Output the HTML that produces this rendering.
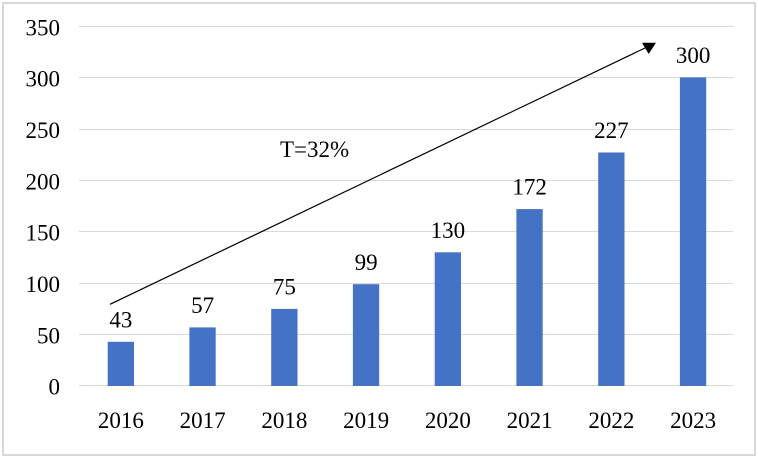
<!DOCTYPE html>
<html><head><meta charset="utf-8"><style>
html,body{margin:0;padding:0;background:#fff;}
svg{display:block;}
text{font-family:"Liberation Serif","Times New Roman",serif;font-size:23px;fill:#000;}
</style></head><body>
<svg width="758" height="458" viewBox="0 0 758 458" xmlns="http://www.w3.org/2000/svg">
<rect x="0" y="0" width="758" height="458" fill="#fff"/>
<rect x="3" y="3" width="752" height="452" fill="none" stroke="#d9d9d9" stroke-width="2"/>
<g stroke="#d9d9d9" stroke-width="1">
<line x1="79" y1="26.5" x2="733" y2="26.5"/>
<line x1="79" y1="77.5" x2="733" y2="77.5"/>
<line x1="79" y1="129.5" x2="733" y2="129.5"/>
<line x1="79" y1="180.5" x2="733" y2="180.5"/>
<line x1="79" y1="231.5" x2="733" y2="231.5"/>
<line x1="79" y1="283.5" x2="733" y2="283.5"/>
<line x1="79" y1="334.5" x2="733" y2="334.5"/>
<line x1="79" y1="385.5" x2="733" y2="385.5"/>
</g>
<g text-anchor="end">
<text x="60" y="35.5">350</text>
<text x="60" y="86.5">300</text>
<text x="60" y="138">250</text>
<text x="60" y="189.5">200</text>
<text x="60" y="240.5">150</text>
<text x="60" y="292">100</text>
<text x="60" y="343.5">50</text>
<text x="60" y="394.5">0</text>
</g>
<g fill="#4472c4">
<rect x="107.7" y="341.8" width="26.3" height="44.2"/>
<rect x="189.4" y="327.4" width="26.3" height="58.6"/>
<rect x="271.2" y="308.9" width="26.3" height="77.1"/>
<rect x="352.9" y="284.2" width="26.3" height="101.8"/>
<rect x="434.7" y="252.3" width="26.3" height="133.7"/>
<rect x="516.4" y="209.1" width="26.3" height="176.9"/>
<rect x="598.2" y="152.5" width="26.3" height="233.5"/>
<rect x="679.9" y="77.4" width="26.3" height="308.6"/>
</g>
<g text-anchor="middle">
<text x="120.9" y="327.5">43</text>
<text x="202.6" y="313">57</text>
<text x="284.4" y="294.5">75</text>
<text x="366.1" y="270">99</text>
<text x="447.9" y="238">130</text>
<text x="529.6" y="194.5">172</text>
<text x="611.4" y="138">227</text>
<text x="693.1" y="63">300</text>
</g>
<g text-anchor="middle">
<text x="120.9" y="428">2016</text>
<text x="202.6" y="428">2017</text>
<text x="284.4" y="428">2018</text>
<text x="366.1" y="428">2019</text>
<text x="447.9" y="428">2020</text>
<text x="529.6" y="428">2021</text>
<text x="611.4" y="428">2022</text>
<text x="693.1" y="428">2023</text>
</g>
<text x="280" y="157">T=32%</text>
<line x1="110" y1="304.3" x2="646" y2="47.5" stroke="#000" stroke-width="1.2"/>
<polygon points="642,42.7 656,42.7 648.7,54" fill="#000"/>
</svg>
</body></html>
